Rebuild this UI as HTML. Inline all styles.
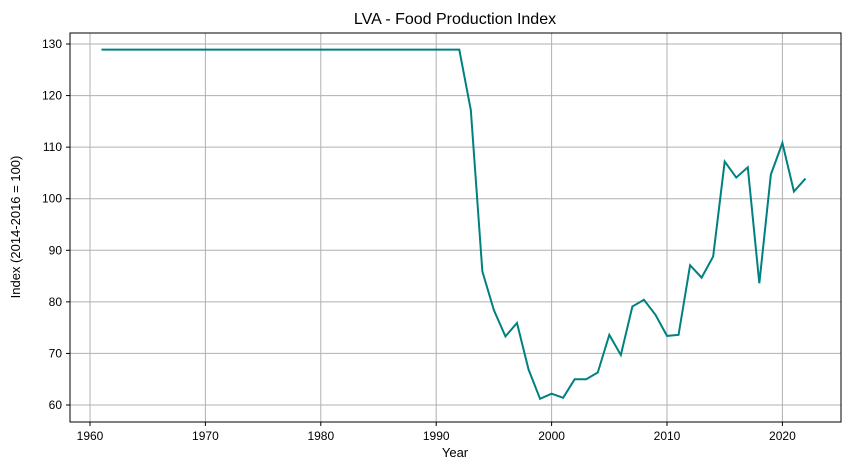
<!DOCTYPE html>
<html><head><meta charset="utf-8"><style>
body{margin:0;background:#fff;font-family:"Liberation Sans","DejaVu Sans",sans-serif}
</style></head><body>
<svg id="chart" width="850" height="470" xmlns="http://www.w3.org/2000/svg">
<rect x="0" y="0" width="850" height="470" fill="#fff"/>
<text x="455" y="24" font-size="16" text-anchor="middle" fill="#000">LVA - Food Production Index</text>
<g id="grid"></g>
<g id="ticks"></g>
<polyline id="series" fill="none" stroke="#008080" stroke-width="2"/>
<rect x="70" y="33" width="771" height="389" fill="none" stroke="#000" stroke-width="1"/>
<text x="455" y="457" font-size="13" text-anchor="middle">Year</text>
<text x="20" y="227" font-size="13" text-anchor="middle" transform="rotate(-90 20 227)">Index (2014-2016 = 100)</text>
</svg>
<script>
const years=[];for(let y=1961;y<=2022;y++)years.push(y);
const flatValues=[128.9,128.9,128.9,128.9,128.9,128.9,128.9,128.9,128.9,128.9,128.9,128.9,128.9,128.9,128.9,128.9,128.9,128.9,128.9,128.9,128.9,128.9,128.9,128.9,128.9,128.9,128.9,128.9,128.9,128.9,128.9,128.9];
const laterValues=[117.2,85.9,78.4,73.3,75.9,66.9,61.2,62.2,61.4,65.0,65.0,66.3,73.6,69.7,79.1,80.4,77.5,73.4,73.6,87.1,84.7,88.8,107.2,104.1,106.1,83.6,104.7,110.8,101.4,103.9];
const values=flatValues.concat(laterValues);
const xTicks=[1960,1970,1980,1990,2000,2010,2020];
const yTicks=[60,70,80,90,100,110,120,130];
const X=v=>90+(v-1960)*11.54;
const Y=v=>405-(v-60)*(361/70);
const NS="http://www.w3.org/2000/svg";
const grid=document.getElementById('grid'),ticks=document.getElementById('ticks');
function mk(tag,attrs,parent){const e=document.createElementNS(NS,tag);for(const k in attrs)e.setAttribute(k,attrs[k]);parent.appendChild(e);return e;}
xTicks.forEach(t=>{
 const l=mk('line',{x1:X(t),x2:X(t),y1:33,y2:422,stroke:'#b0b0b0','stroke-width':1},grid);
 
 
 mk('line',{x1:X(t),x2:X(t),y1:422,y2:426,stroke:'#000'},ticks);
 const tx=mk('text',{x:X(t),y:440,'font-size':12,'text-anchor':'middle'},ticks);tx.textContent=t;
 
 
});
yTicks.forEach(t=>{
 const l=mk('line',{x1:70,x2:841,y1:Y(t),y2:Y(t),stroke:'#b0b0b0','stroke-width':1},grid);
 
 
 mk('line',{x1:66,x2:70,y1:Y(t),y2:Y(t),stroke:'#000'},ticks);
 const tx=mk('text',{x:62,y:Y(t)+4,'font-size':12,'text-anchor':'end'},ticks);tx.textContent=t;
 
 
});
document.getElementById('series').setAttribute('points',years.map((y,i)=>X(y)+','+Y(values[i])).join(' '));
</script>
</body></html>
